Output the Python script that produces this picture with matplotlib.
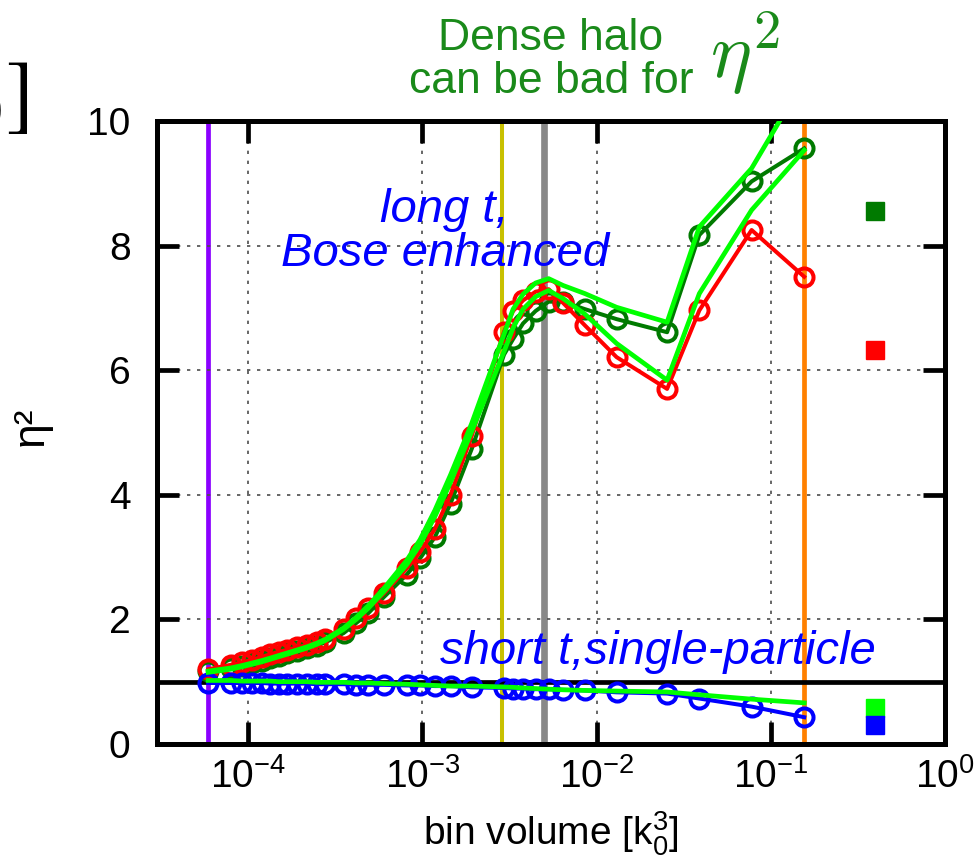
import matplotlib
matplotlib.use("Agg")
import matplotlib.pyplot as plt

plt.rcParams['font.family'] = ['Liberation Sans', 'DejaVu Sans']
plt.rcParams['mathtext.fontset'] = 'custom'
plt.rcParams['mathtext.rm'] = 'Liberation Sans'
plt.rcParams['mathtext.it'] = 'Liberation Sans:italic'
plt.rcParams['axes.unicode_minus'] = False

# bin volume [k0^3]
volume = [5.90e-5, 7.93e-5, 9.25e-5, 1.054e-4, 1.202e-4, 1.343e-4, 1.496e-4, 1.671e-4,
          1.910e-4, 2.178e-4, 2.483e-4, 2.773e-4, 3.532e-4, 4.169e-4, 4.898e-4, 6.026e-4,
          8.147e-4, 9.705e-4, 1.180e-3, 1.452e-3, 1.923e-3, 2.944e-3, 3.319e-3, 3.784e-3,
          4.467e-3, 5.309e-3, 6.427e-3, 8.570e-3, 1.303e-2, 2.541e-2, 3.890e-2, 7.762e-2, 0.1556]

# measured eta^2
eta_red = [1.20, 1.27, 1.31, 1.35, 1.40, 1.44, 1.48, 1.51, 1.55, 1.59, 1.63, 1.68,
           1.85, 2.02, 2.18, 2.42, 2.82, 3.08, 3.45, 4.00, 4.95,
           6.62, 6.95, 7.12, 7.26, 7.30, 7.08, 6.72, 6.21, 5.70, 6.96, 8.25, 7.50]
eta_dkgreen = [1.17, 1.22, 1.26, 1.30, 1.34, 1.38, 1.42, 1.46, 1.50, 1.54, 1.58, 1.63,
               1.78, 1.94, 2.10, 2.36, 2.72, 2.98, 3.32, 3.86, 4.74,
               6.25, 6.50, 6.75, 6.95, 7.10, 7.10, 6.98, 6.82, 6.61, 8.17, 9.03, 9.56]
eta_blue = [0.98, 0.98, 0.98, 0.98, 0.98, 0.97, 0.97, 0.97, 0.97, 0.97, 0.96, 0.96,
            0.96, 0.95, 0.95, 0.95, 0.94, 0.94, 0.93, 0.93, 0.91,
            0.90, 0.89, 0.89, 0.88, 0.88, 0.87, 0.86, 0.83, 0.81, 0.73, 0.60, 0.43]

# bright green model curves
model_a = [1.17, 1.22, 1.26, 1.30, 1.34, 1.38, 1.42, 1.46, 1.51, 1.56, 1.62, 1.68,
           1.86, 2.03, 2.22, 2.50, 2.95, 3.28, 3.75, 4.32, 5.15,
           6.58, 6.98, 7.22, 7.40, 7.47, 7.36, 7.23, 7.01, 6.77, 8.30, 9.24, 10.67]
model_b = [1.15, 1.20, 1.24, 1.28, 1.32, 1.36, 1.40, 1.44, 1.49, 1.54, 1.60, 1.66,
           1.84, 2.00, 2.18, 2.45, 2.88, 3.20, 3.65, 4.20, 5.02,
           6.30, 6.68, 6.98, 7.18, 7.28, 7.15, 6.90, 6.43, 5.84, 7.23, 8.57, 9.53]
model_c = [1.02, 1.02, 1.01, 1.01, 1.01, 1.01, 1.00, 1.00, 1.00, 1.00, 0.99, 0.99,
           0.99, 0.98, 0.98, 0.97, 0.96, 0.95, 0.94, 0.93, 0.93,
           0.915, 0.91, 0.90, 0.89, 0.88, 0.87, 0.86, 0.85, 0.835, 0.79, 0.72, 0.66]

# vertical reference volumes
vline_x = [5.9e-5, 2.85e-3, 5.0e-3, 0.155]
vline_colors = ['#8a00ff', '#c8c000', '#888888', '#ff8000']
vline_widths = [3.4, 2.9, 4.8, 3.4]

# small key squares on the right
key_x = [0.395, 0.395, 0.395, 0.395]
key_y = [8.56, 6.32, 0.58, 0.30]
key_colors = ['#007a00', '#ff0000', '#00ff00', '#0000ff']

xticks = [1e-4, 1e-3, 1e-2, 1e-1, 1]
xticklabels = [r'$\mathdefault{10^{-4}}$', r'$\mathdefault{10^{-3}}$', r'$\mathdefault{10^{-2}}$',
               r'$\mathdefault{10^{-1}}$', r'$\mathdefault{10^{0}}$']
yticks = [0, 2, 4, 6, 8, 10]

fig = plt.figure(figsize=(9.78, 8.6), dpi=100)
ax = fig.add_axes([157 / 978, 1 - 744 / 860, 788 / 978, 623 / 860])

ax.set_xscale('log')
ax.set_xlim(3.0e-5, 1)
ax.set_ylim(0, 10)

ax.grid(True, which='major', color='0.3', linestyle=(0, (2, 4)), linewidth=1.2, zorder=0)

for xv, c, w in zip(vline_x, vline_colors, vline_widths):
    ax.axvline(xv, color=c, linewidth=w, zorder=1)
ax.axhline(1, color='black', linewidth=3.4, zorder=2)

circ = dict(marker='o', markersize=13, markerfacecolor='none', markeredgewidth=2.9, linewidth=2.9)
ax.plot(volume, eta_dkgreen, color='#007a00', zorder=3, **circ)
ax.plot(volume, eta_red, color='#ff0000', zorder=4, **circ)
ax.plot(volume, eta_blue, color='#0000ff', zorder=4, **circ)

ax.plot(volume, model_a, color='#00ff00', linewidth=3.4, zorder=5)
ax.plot(volume, model_b, color='#00ff00', linewidth=3.4, zorder=5)
ax.plot(volume, model_c, color='#00ff00', linewidth=3.4, zorder=5)

for kx, ky, kc in zip(key_x, key_y, key_colors):
    ax.plot([kx], [ky], marker='s', markersize=12.5, color=kc, linestyle='none', zorder=6)

ax.set_xticks(xticks)
ax.set_xticklabels(xticklabels)
ax.set_yticks(yticks)
ax.minorticks_off()
ax.tick_params(axis='both', which='major', direction='in', length=16, width=3.4,
               top=True, right=True, labelsize=28, colors='black')
ax.tick_params(axis='x', pad=10)
ax.tick_params(axis='y', pad=19)
for s in ax.spines.values():
    s.set_linewidth(3.6)

ax.set_xlabel(r'bin volume [k$_0^3$]', fontsize=28)
ax.xaxis.set_label_coords(0.5, -0.162)
ax.xaxis.label.set_va('baseline')
ax.text(-0.16, 0.51, 'η²', rotation=90, fontsize=32, ha='center', va='center',
        transform=ax.transAxes)

ax.text(0.365, 0.822, 'long t,\nBose enhanced', color='#0000ff', fontsize=34, style='italic',
        ha='center', va='center', linespacing=1.0, transform=ax.transAxes)
ax.text(0.359, 0.148, 'short t,single-particle', color='#0000ff', fontsize=34, style='italic',
        ha='left', va='center', transform=ax.transAxes)

fig.text(551 / 978, 1 - 60 / 860, 'Dense halo\ncan be bad for', color='#1a8a1a', fontsize=32,
         ha='center', va='center', linespacing=1.05)
fig.text(710 / 978, 1 - 54 / 860, r'$\eta^2$', color='#1a8a1a', fontsize=56,
         math_fontfamily='cm', ha='left', va='center')

# cut-off label of neighbouring panel
fig.text(28 / 978, 1 - 100 / 860, r'$q_0]$', fontsize=62, math_fontfamily='stix',
         ha='right', va='center')

fig.savefig('out.png', dpi=100)
